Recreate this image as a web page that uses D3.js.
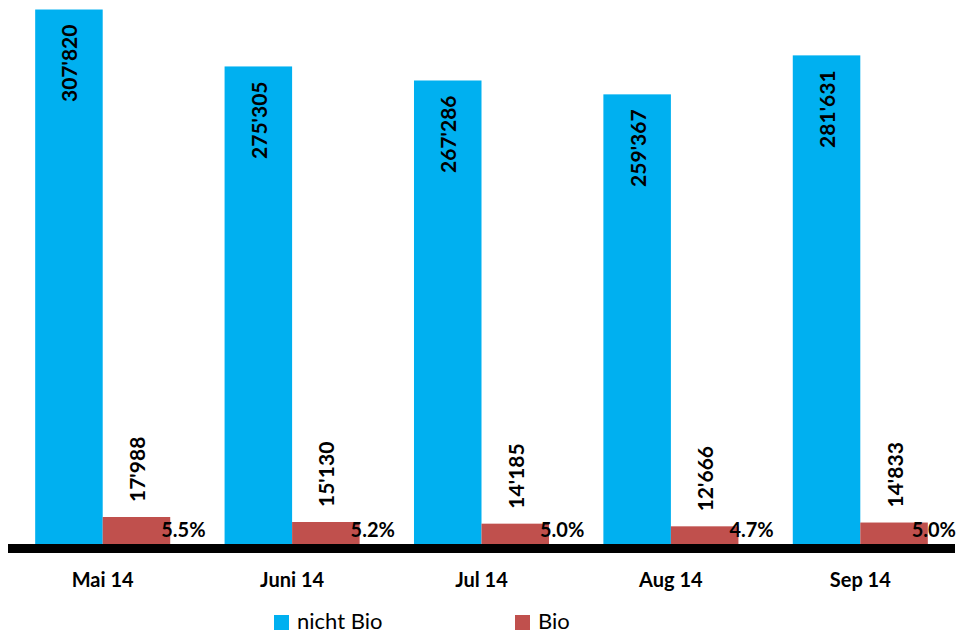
<!DOCTYPE html>
<html>
<head>
<meta charset="utf-8">
<script src="https://cdn.jsdelivr.net/npm/d3@7"></script>
<style>
  html, body { margin: 0; padding: 0; background: #fff; }
  svg { display: block; }
  text { font-family: Lato, "Open Sans", sans-serif; fill: #000; }
</style>
</head>
<body>
<svg id="chart" width="958" height="634"></svg>
<script>
// Monthly volumes: conventional vs. organic
const months = ["Mai 14", "Juni 14", "Jul 14", "Aug 14", "Sep 14"];
const nichtBio = [307820, 275305, 267286, 259367, 281631];
const bio = [17988, 15130, 14185, 12666, 14833];
const seriesNames = ["nicht Bio", "Bio"];
const seriesColors = ["#00B0F0", "#C0504D"];

const width = 958, height = 634;
const svg = d3.select("#chart");

const fmt = d3.formatLocale({ decimal: ".", thousands: "'", grouping: [3], currency: ["", ""] }).format(",d");

const rows = months.map((m, i) => ({
  month: m,
  values: [nichtBio[i], bio[i]],
  share: bio[i] / (nichtBio[i] + bio[i]) * 100
}));

const x = d3.scaleBand()
  .domain(months)
  .range([8, 955])
  .paddingInner(0.287)
  .paddingOuter(0.1435);

const xs = d3.scaleBand()
  .domain(seriesNames)
  .range([0, x.bandwidth()])
  .padding(0);

const y = d3.scaleLinear()
  .domain([0, 310000])
  .range([548.5, 5.7]);

const groups = svg.append("g").selectAll("g")
  .data(rows)
  .join("g")
  .attr("transform", d => `translate(${x(d.month)},0)`);

// bars
groups.selectAll("rect")
  .data(d => d.values.map((v, k) => ({ v, k })))
  .join("rect")
  .attr("x", d => xs(seriesNames[d.k]))
  .attr("width", xs.bandwidth())
  .attr("y", d => y(d.v))
  .attr("height", d => y(0) - y(d.v))
  .attr("fill", d => seriesColors[d.k]);

// rotated value labels: inside the top of the tall bars, above the short ones
groups.selectAll("text.val")
  .data(d => d.values.map((v, k) => ({ v, k })))
  .join("text")
  .attr("class", "val")
  .attr("transform", d => {
    const cx = xs(seriesNames[d.k]) + xs.bandwidth() / 2;
    const ty = d.k === 0 ? y(d.v) + 15 : y(d.v) - 15;
    return `translate(${cx},${ty}) rotate(-90)`;
  })
  .attr("text-anchor", d => d.k === 0 ? "end" : "start")
  .attr("dominant-baseline", "central")
  .attr("font-size", 21)
  .attr("font-weight", "bold")
  .text(d => fmt(d.v));

// organic share labels next to the organic bars
groups.append("text")
  .attr("class", "pct")
  .attr("y", 537)
  .attr("font-size", 20)
  .attr("font-weight", "bold")
  .text(d => d.share.toFixed(1) + "%")
  .each(function(d) {
    const redEnd = x(d.month) + xs("Bio") + xs.bandwidth();
    const w = this.getComputedTextLength();
    const gx = x(d.month);
    const px = Math.min(redEnd - 9, 956 - w);
    d3.select(this).attr("x", px - gx);
  });

// category axis with a heavy baseline
const axis = svg.append("g")
  .attr("transform", `translate(0,${y(0)})`)
  .call(d3.axisBottom(x).tickSize(0).tickSizeOuter(0));
axis.select(".domain")
  .attr("stroke", "#000")
  .attr("stroke-width", 9)
  .attr("d", "M8,0H955");
axis.selectAll(".tick text")
  .attr("y", 38)
  .attr("dy", 0)
  .attr("font-size", 20)
  .attr("font-weight", "bold")
  .attr("font-family", "Lato, 'Open Sans', sans-serif")
  .attr("fill", "#000");

// legend
const legendX = [274, 515];
const legend = svg.append("g").selectAll("g")
  .data(seriesNames)
  .join("g")
  .attr("transform", (d, i) => `translate(${legendX[i]},615)`);
legend.append("rect")
  .attr("width", 15)
  .attr("height", 15)
  .attr("fill", (d, i) => seriesColors[i]);
legend.append("text")
  .attr("x", 23)
  .attr("y", 14)
  .attr("font-size", 22)
  .text(d => d);
</script>
</body>
</html>
